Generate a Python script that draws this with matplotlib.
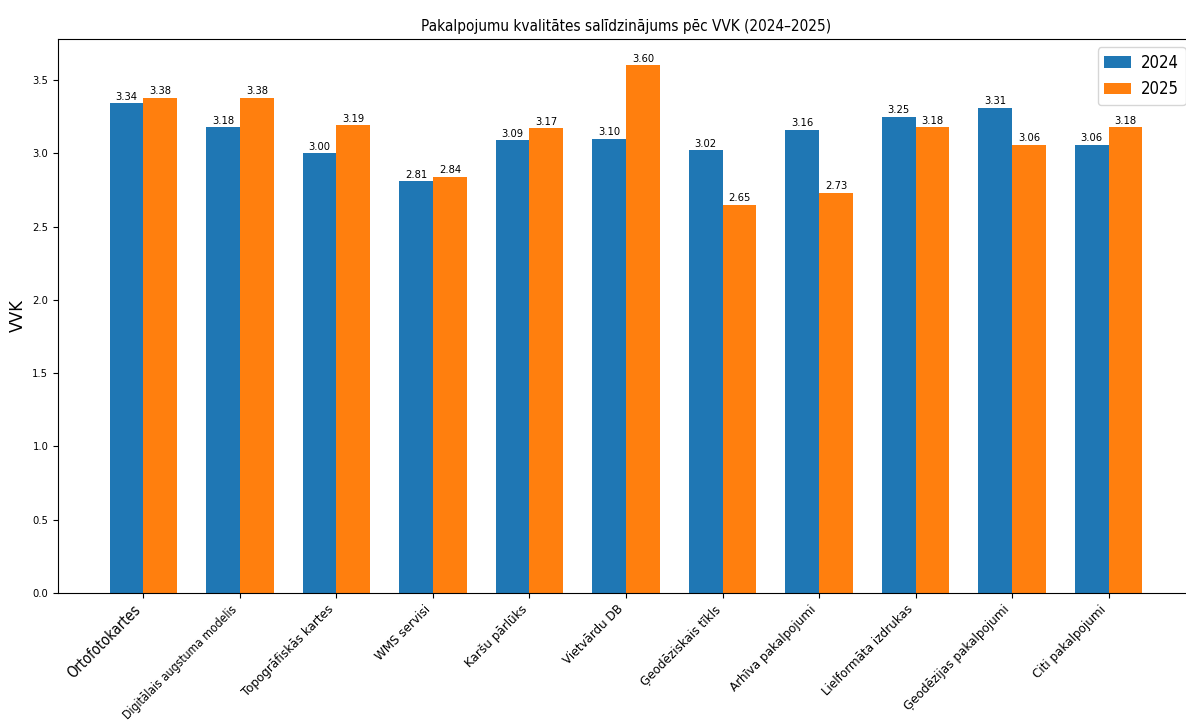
import matplotlib
matplotlib.use("Agg")
import matplotlib.pyplot as plt
import numpy as np

categories = ["Ortofotokartes", "Digitālais augstuma modelis", "Topogrāfiskās kartes",
              "WMS servisi", "Karšu pārlūks", "Vietvārdu DB", "Ģeodēziskais tīkls",
              "Arhīva pakalpojumi", "Lielformāta izdrukas", "Ģeodēzijas pakalpojumi",
              "Citi pakalpojumi"]
vals_2024 = [3.34, 3.18, 3.00, 2.81, 3.09, 3.10, 3.02, 3.16, 3.25, 3.31, 3.06]
vals_2025 = [3.38, 3.38, 3.19, 2.84, 3.17, 3.60, 2.65, 2.73, 3.18, 3.06, 3.18]
label_sizes = [10.5, 8.7, 9.5, 9.5, 9.5, 9.5, 9.5, 9.5, 9.5, 9.5, 9.5]

plt.rcParams['font.family'] = ['DejaVu Sans']
plt.rcParams['font.stretch'] = 'condensed'

fig = plt.figure(figsize=(11.86, 7.2), dpi=100)
ax = fig.add_axes([58/1186, 1-593/720, (1194-58)/1186, (593-39)/720])

x = np.arange(len(categories))
w = 0.35
b1 = ax.bar(x - w/2, vals_2024, w, color='#1f77b4', label='2024')
b2 = ax.bar(x + w/2, vals_2025, w, color='#ff7f0e', label='2025')
for bars in (b1, b2):
    for r in bars:
        ax.annotate(f"{r.get_height():.2f}", (r.get_x() + r.get_width()/2, r.get_height()),
                    xytext=(0, 1), textcoords='offset points', ha='center', va='bottom', fontsize=8)

ax.set_ylim(0, 3.78)
ax.set_xticks(x)
ax.set_xticklabels(categories, rotation=45, ha='right')
for t, s in zip(ax.get_xticklabels(), label_sizes):
    t.set_fontsize(s)
ax.tick_params(axis='y', labelsize=8)
ax.set_ylabel("VVK", fontsize=13)
ax.set_title("Pakalpojumu kvalitātes salīdzinājums pēc VVK (2024–2025)", fontsize=11)
ax.legend(loc='upper right', fontsize=12, handlelength=1.6, handletextpad=0.6)

fig.savefig("out.png", dpi=100)
